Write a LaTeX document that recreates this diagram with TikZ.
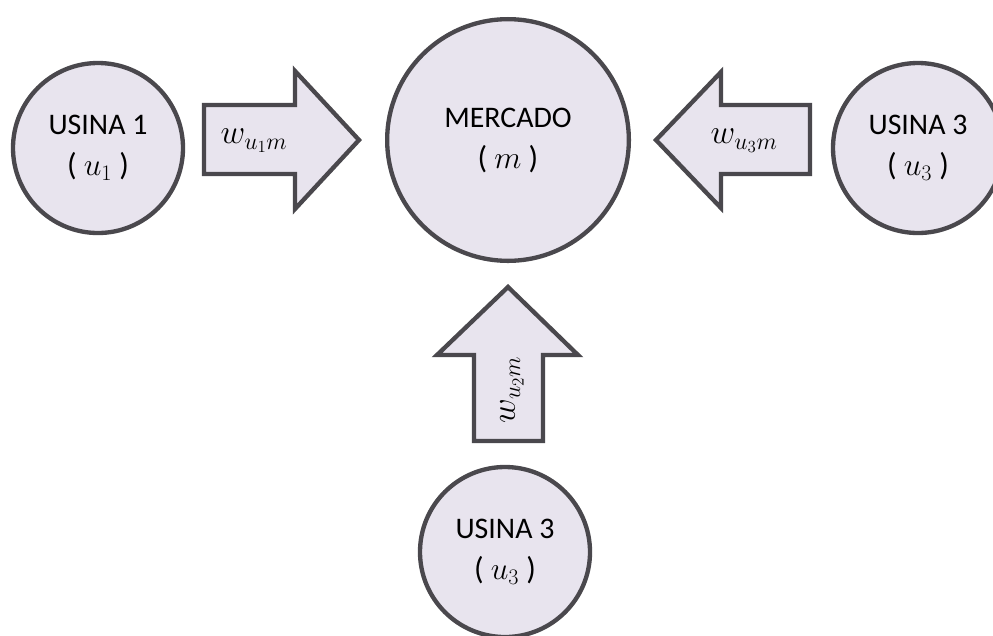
\RequirePackage{fix-cm}
\documentclass[tikz,border=0pt]{standalone}
\usepackage{fontspec}
\setmainfont{Carlito}
\usepackage{xcolor}
\usetikzlibrary{positioning}
\definecolor{borda}{HTML}{4A484D}
\definecolor{preench}{HTML}{E8E4EE}
\newcommand{\simb}[1]{{\fontsize{27}{34}\selectfont( $#1$ )}}

\begin{document}
\begin{tikzpicture}[
    x=0.03cm, y=-0.03cm,
    usina/.style={circle, draw=borda, fill=preench, line width=0.13cm, minimum size=5.1cm, align=center, font=\fontsize{25.5}{35}\selectfont},
    mercado/.style={usina, minimum size=7.25cm},
    seta/.style={draw=borda, fill=preench, line width=0.13cm, line join=miter},
    rotulo/.style={font=\fontsize{29}{32}\selectfont}
]
    \useasboundingbox (0,0) rectangle (993,635);

    % Mercado
    \node[mercado] (m) at (508,140) {MERCADO\\\simb{m}};

    % Usinas
    \node[usina] (u1) at (98,148) {USINA 1\\\simb{u_1}};
    \node[usina] (u3) at (918,148) {USINA 3\\\simb{u_3}};
    \node[usina] (u2) at (505,552) {USINA 3\\\simb{u_3}};

    % Setas
    \draw[seta] (204,105) -- (295,105) -- (295,71) -- (359,140) -- (295,209) -- (295,174) -- (204,174) -- cycle;
    \draw[seta] (810,105) -- (721,105) -- (721,72) -- (656,140) -- (721,208) -- (721,174) -- (810,174) -- cycle;
    \draw[seta] (474,441) -- (474,355) -- (437,355) -- (508,287) -- (578,355) -- (543,355) -- (543,441) -- cycle;

    % Rotulos
    \node[rotulo] (w1) at (254,141) {$w_{u_1m}$};
    \node[rotulo] (w3) at (744,141) {$w_{u_3m}$};
    \node[rotulo, rotate=90] (w2) at (512,390) {$w_{u_2m}$};
\end{tikzpicture}
\end{document}
